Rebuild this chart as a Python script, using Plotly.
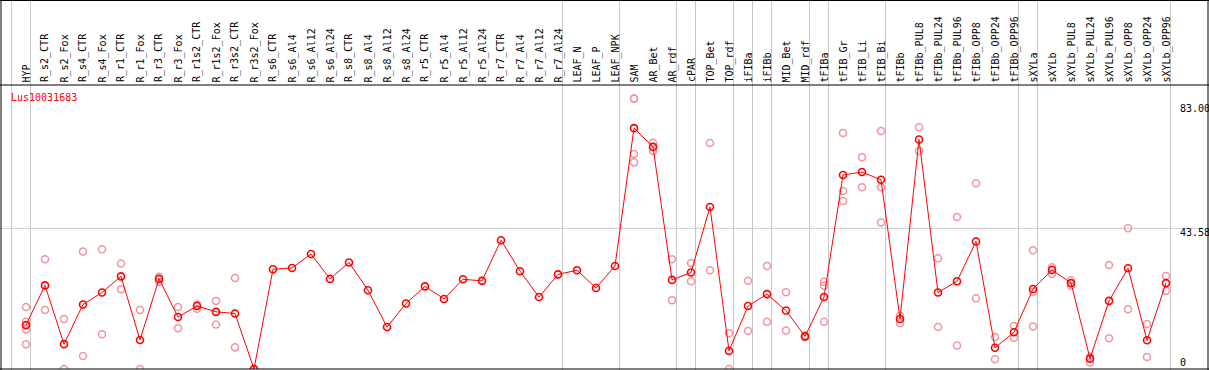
import plotly.graph_objects as go

gene = "Lus10031683"

categories = [
    "HYP",
    "R_s2_CTR", "R_s2_Fox", "R_s4_CTR", "R_s4_Fox", "R_r1_CTR", "R_r1_Fox",
    "R_r3_CTR", "R_r3_Fox", "R_r1s2_CTR", "R_r1s2_Fox", "R_r3s2_CTR", "R_r3s2_Fox",
    "R_s6_CTR", "R_s6_Al4", "R_s6_Al12", "R_s6_Al24",
    "R_s8_CTR", "R_s8_Al4", "R_s8_Al12", "R_s8_Al24",
    "R_r5_CTR", "R_r5_Al4", "R_r5_Al12", "R_r5_Al24",
    "R_r7_CTR", "R_r7_Al4", "R_r7_Al12", "R_r7_Al24",
    "LEAF_N", "LEAF_P", "LEAF_NPK",
    "SAM", "AR_Bet", "AR_rdf", "cPAR", "TOP_Bet", "TOP_rdf", "iFIBa", "iFIBb",
    "MID_Bet", "MID_rdf", "tFIBa", "tFIB_Gr", "tFIB_Li", "tFIB_Bi", "tFIBb",
    "tFIBb_PUL8", "tFIBb_PUL24", "tFIBb_PUL96", "tFIBb_OPP8", "tFIBb_OPP24", "tFIBb_OPP96",
    "sXYLa", "sXYLb",
    "sXYLb_PUL8", "sXYLb_PUL24", "sXYLb_PUL96", "sXYLb_OPP8", "sXYLb_OPP24", "sXYLb_OPP96",
]

# group sizes (grey separators drawn after each group)
group_sizes = [1, 28, 3, 3, 1, 2, 1, 1, 2, 1, 3, 7, 1, 7]

means = [
    13.6, 25.9, 7.7, 20.0, 23.7, 28.7, 9.0, 27.9, 16.1, 19.5, 17.7, 17.2, 0.0,
    30.9, 31.3, 35.6, 27.9, 33.0, 24.4, 13.0, 20.3, 25.6, 21.7, 27.8, 27.3,
    39.9, 30.3, 22.3, 29.3,
    30.6, 25.1, 31.9,
    74.6, 68.8, 27.6, 29.9, 50.2, 5.6, 19.5, 23.2, 18.1, 10.1, 22.3, 60.1, 61.0, 58.6, 15.5,
    71.1, 23.7, 27.2, 39.5, 6.6, 11.4,
    24.8, 30.7, 26.6, 3.2, 21.1, 31.2, 8.9, 26.6,
]

replicates = [
    [19.2, 14.6, 12.2, 7.7],
    [34.0, 18.3], [15.5, 0.0], [36.4, 4.0], [37.1, 10.8], [32.7, 24.7], [18.3, 0.0],
    [28.6, 27.0], [19.2, 12.6], [20.0, 18.7], [21.1, 13.8], [28.2, 6.7], [0.0, 0.0],
    [], [], [], [], [], [], [], [], [], [], [], [], [], [], [], [],
    [], [], [],
    [83.8, 83.8, 66.6, 64.0], [70.1, 67.5], [34.0, 21.3], [32.8, 27.2], [70.0, 30.6],
    [11.1, 0.0], [27.3, 11.8], [31.9, 14.6], [23.8, 11.9], [10.4, 9.8],
    [27.0, 25.8, 14.6], [73.1, 55.1, 52.0], [65.6, 56.3], [73.7, 56.3, 45.4], [16.5, 14.2],
    [74.9, 67.5], [34.3, 13.0], [47.1, 7.3], [57.5, 21.9], [9.9, 3.0], [13.3, 9.7],
    [36.8, 23.9, 13.2], [31.5, 29.4],
    [27.5, 25.8], [3.8, 2.0], [32.2, 9.5], [43.6, 18.5], [13.9, 3.7], [28.8, 24.2],
]

tick_values = [0, 43.58, 83.00]
tick_texts = ["0", "43.58", "83.00"]

W, H = 1209, 370
FONT = "DejaVu Sans Mono"
X0, DX = 26.0, 19.0          # pixel centre of first category, spacing
Y_BOT, Y_TOP = 369.0, 85.0   # plot area in pixels
PX_PER_UNIT = (369.0 - 228.3) / 43.58


def py(p):  # pixel y -> paper
    return (H - p) / H


def px(p):  # pixel x -> paper
    return p / W


rep_x, rep_y = [], []
for c, vals in zip(categories, replicates):
    for v in vals:
        rep_x.append(c)
        rep_y.append(v)

fig = go.Figure()
fig.add_trace(go.Scatter(
    x=rep_x, y=rep_y, mode="markers",
    marker=dict(symbol="circle-open", size=7, color="rgb(240,150,160)",
                line=dict(width=1.5, color="rgb(240,150,160)")),
    hoverinfo="x+y", showlegend=False,
))
fig.add_trace(go.Scatter(
    x=categories, y=means, mode="lines+markers",
    line=dict(color="#ff0000", width=1),
    marker=dict(symbol="circle-open", size=7, color="#ff0000",
                line=dict(width=1.6, color="#ff0000")),
    showlegend=False,
))

shapes = []
# horizontal grid line
shapes.append(dict(type="line", xref="paper", yref="y", x0=0, x1=1,
                   y0=tick_values[1], y1=tick_values[1],
                   line=dict(color="#c8c8c8", width=1), layer="below"))
# group separators
sep_positions = [-1]
acc = -1
for g in group_sizes:
    acc += g
    sep_positions.append(acc)
off = 4.5 / DX
for s in sep_positions:
    shapes.append(dict(type="line", xref="x", yref="paper", x0=s + off, x1=s + off,
                       y0=0, y1=1, line=dict(color="#c8c8c8", width=1), layer="below"))
# black frame and header line
blk = dict(color="black", width=1)
shapes.append(dict(type="line", xref="paper", yref="paper", x0=px(1), x1=px(1), y0=0, y1=1, line=blk))
shapes.append(dict(type="line", xref="paper", yref="paper", x0=px(1208), x1=px(1208), y0=0, y1=1, line=blk))
shapes.append(dict(type="line", xref="paper", yref="paper", x0=0, x1=1, y0=py(0.5), y1=py(0.5), line=blk))
shapes.append(dict(type="line", xref="paper", yref="paper", x0=0, x1=1, y0=py(369), y1=py(369), line=blk))
shapes.append(dict(type="line", xref="paper", yref="paper", x0=0, x1=1, y0=py(85), y1=py(85), line=blk))

annotations = []
for c in categories:
    annotations.append(dict(x=c, xref="x", y=py(83.5), yref="paper", text=c,
                            textangle=-90, showarrow=False, xanchor="center",
                            yanchor="bottom", font=dict(family=FONT, size=10, color="black"),
                            borderpad=0))
annotations.append(dict(x=px(9.5), xref="paper", y=py(97), yref="paper", text=gene,
                        showarrow=False, xanchor="left", yanchor="middle",
                        font=dict(family=FONT, size=10, color="#ff0000"), borderpad=0))
tick_label_y = [362, 232.5, 108]
for t, yy in zip(tick_texts, tick_label_y):
    annotations.append(dict(x=px(1178.5), xref="paper", y=py(yy), yref="paper", text=t,
                            showarrow=False, xanchor="left", yanchor="middle",
                            font=dict(family=FONT, size=10, color="black"), borderpad=0))

fig.update_layout(
    width=W, height=H, margin=dict(l=0, r=0, t=0, b=0),
    paper_bgcolor="white", plot_bgcolor="white",
    xaxis=dict(type="category", categoryorder="array", categoryarray=categories,
               range=[-X0 / DX, (W - X0) / DX], domain=[0, 1],
               showgrid=False, showticklabels=False, zeroline=False, showline=False, ticks=""),
    yaxis=dict(range=[0, (Y_BOT - Y_TOP) / PX_PER_UNIT], domain=[py(Y_BOT), py(Y_TOP)],
               showgrid=False, showticklabels=False, zeroline=False, showline=False, ticks=""),
    shapes=shapes, annotations=annotations, showlegend=False,
)

fig.write_html(
    "out.html",
    config={"displayModeBar": False},
    post_script="document.body.style.margin='0';document.body.style.padding='0';"
                "document.body.style.overflow='hidden';",
)
